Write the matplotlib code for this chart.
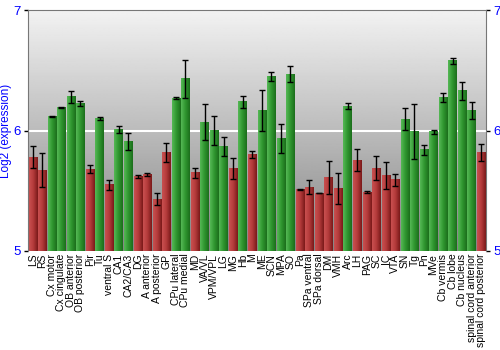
import matplotlib.pyplot as plt
import numpy as np
from matplotlib.colors import LinearSegmentedColormap

plt.rcParams['font.family'] = ['Liberation Sans', 'DejaVu Sans']

regions = ['LS', 'RS', 'Cx motor', 'Cx cingulate', 'OB anterior', 'OB posterior',
           'Pir', 'Tu', 'ventral S', 'CA1', 'CA2/CA3', 'DG', 'A anterior',
           'A posterior', 'GP', 'CPu lateral', 'CPu medial', 'MD', 'VA/VL',
           'VPM/VPL', 'LG', 'MG', 'Hb', 'M', 'ME', 'SCN', 'MPA', 'SO', 'Pa',
           'SPa ventral', 'SPa dorsal', 'DM', 'VMH', 'Arc', 'LH', 'PAG', 'SC',
           'IC', 'VTA', 'SN', 'Tg', 'Pn', 'MVe', 'Cb vermis', 'Cb lobe',
           'Cb nucleus', 'spinal cord anterior', 'spinal cord posterior']

log2_expr = [5.78, 5.67, 6.12, 6.195, 6.28, 6.225,
             5.68, 6.10, 5.55, 6.007, 5.91, 5.62, 5.636,
             5.43, 5.82, 6.27, 6.43, 5.65, 6.07,
             6.00, 5.866, 5.686, 6.24, 5.80, 6.17, 6.45, 5.935, 6.47, 5.51,
             5.53, 5.48, 5.61, 5.52, 6.20, 5.755, 5.49, 5.686,
             5.625, 5.59, 6.095, 5.99, 5.84, 5.99, 6.275, 6.58,
             6.33, 6.17, 5.82]

sem = [0.09, 0.14, 0.005, 0.004, 0.05, 0.02,
       0.03, 0.01, 0.04, 0.03, 0.07, 0.01, 0.01,
       0.05, 0.08, 0.01, 0.16, 0.04, 0.15,
       0.12, 0.08, 0.09, 0.05, 0.03, 0.17, 0.04, 0.12, 0.07, 0.005,
       0.06, 0.002, 0.14, 0.13, 0.025, 0.095, 0.005, 0.10,
       0.11, 0.05, 0.09, 0.23, 0.04, 0.015, 0.04, 0.025,
       0.075, 0.07, 0.07]

high_cutoff = 5.83
ymin, ymax = 5, 7

green_map = LinearSegmentedColormap.from_list('g', ['#55b855', '#2f962f', '#1c6e1c'])
red_map = LinearSegmentedColormap.from_list('r', ['#c95050', '#b33a3a', '#7a1a1a'])

fig = plt.figure(figsize=(5, 3.5), dpi=100)
ax = fig.add_axes([0.056, 0.283, 0.916, 0.688])

n = len(regions)
x = np.arange(n)
ax.set_xlim(-0.5, n - 0.5)
ax.set_ylim(ymin, ymax)

# grey vertical gradient behind the bars, light at the top
bg = np.linspace(0.95, 0.52, 256).reshape(-1, 1)
ax.imshow(bg, cmap='gray', vmin=0, vmax=1, aspect='auto',
          extent=[-0.5, n - 0.5, ymin, ymax], zorder=0, origin='upper')
ax.axhline(6, color='white', lw=1.5, zorder=1)

# bars shaded left-to-right
w = 0.88
shade = np.linspace(0, 1, 32).reshape(1, -1)
for xi, v in zip(x, log2_expr):
    cmap = green_map if v > high_cutoff else red_map
    ax.imshow(shade, cmap=cmap, aspect='auto', interpolation='bilinear',
              extent=[xi - w / 2, xi + w / 2, ymin, v], zorder=2)

ax.errorbar(x, log2_expr, yerr=sem, fmt='none', ecolor='black',
            elinewidth=1, capsize=2, capthick=1, zorder=3)

ax.set_xticks(x)
ax.set_xticklabels(regions, rotation=90, fontsize=7.5)
ax.tick_params(axis='x', length=0, pad=2)
ax.set_yticks([5, 6, 7])
ax.tick_params(axis='y', labelcolor='blue', labelsize=9.5, length=3, width=1,
               direction='out', right=True, labelright=True, pad=2)
ax.set_ylabel('Log2 (expression)', color='blue', fontsize=8.5, labelpad=1)

for side in ['top', 'right', 'left']:
    ax.spines[side].set_color('#777777')
ax.spines['bottom'].set_visible(False)

plt.savefig('out.png', dpi=100)
